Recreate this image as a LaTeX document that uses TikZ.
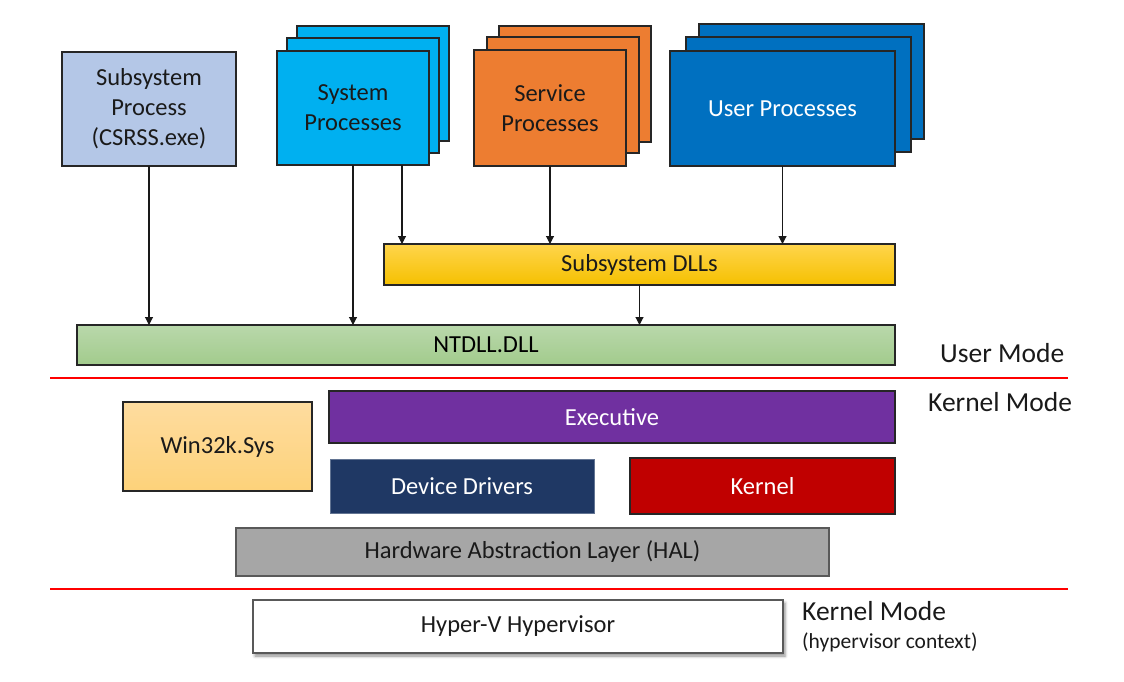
\documentclass[tikz,border=0pt]{standalone}
\usepackage{fontspec}
\setmainfont{Carlito}
\usetikzlibrary{arrows.meta,shadows.blur}
\definecolor{boxline}{HTML}{262626}
\definecolor{txtdark}{HTML}{1A1A1A}
\definecolor{csrsscol}{HTML}{B4C7E7}
\definecolor{syscol}{HTML}{00B0F0}
\definecolor{svccol}{HTML}{ED7D31}
\definecolor{usrcol}{HTML}{0070C0}
\definecolor{dlltop}{HTML}{FFD54C}
\definecolor{dllbot}{HTML}{F5C000}
\definecolor{nttop}{HTML}{B9D8AB}
\definecolor{ntbot}{HTML}{A2CB8C}
\definecolor{wintop}{HTML}{FEDC9F}
\definecolor{winbot}{HTML}{FDD27A}
\definecolor{execcol}{HTML}{7030A0}
\definecolor{drvcol}{HTML}{1F3864}
\definecolor{kerncol}{HTML}{C00000}
\definecolor{halcol}{HTML}{A6A6A6}
\definecolor{halline}{HTML}{595959}
\definecolor{redline}{HTML}{FF0000}
\begin{document}
\begin{tikzpicture}[x=1pt,y=-1pt,
  box/.style={draw=boxline, line width=1.3pt, inner sep=0pt, outer sep=0pt,
    anchor=north west, align=center, font=\fontsize{24.5}{30}\selectfont, text=txtdark},
  arr/.style={-{Triangle[length=8pt,width=8pt]}, line width=1.1pt, draw=black!90},
  sepline/.style={draw=redline, line width=2pt},
  modelabel/.style={anchor=west, inner sep=0pt, font=\fontsize{27.5}{30}\selectfont, text=txtdark},
  sublabel/.style={anchor=west, inner sep=0pt, font=\fontsize{21.5}{24}\selectfont, text=txtdark}]
\useasboundingbox (0,0) rectangle (1124,682);

% user-mode processes
\node[box, fill=csrsscol, minimum width=174pt, minimum height=114pt] (csrss) at (62,52)
  {Subsystem\\Process\\(CSRSS.exe)};

\node[box, fill=syscol, minimum width=152pt, minimum height=115pt] (sys3) at (297,26) {};
\node[box, fill=syscol, minimum width=152pt, minimum height=115pt] (sys2) at (287,38) {};
\node[box, fill=syscol, minimum width=152pt, minimum height=114pt] (sys) at (277,51)
  {System\\Processes};

\node[box, fill=svccol, minimum width=152pt, minimum height=116pt] (svc3) at (499,26) {};
\node[box, fill=svccol, minimum width=152pt, minimum height=116pt] (svc2) at (487,37) {};
\node[box, fill=svccol, minimum width=152pt, minimum height=116pt] (svc) at (474,50)
  {Service\\Processes};

\node[box, fill=usrcol, minimum width=225pt, minimum height=115pt] (usr3) at (699,24) {};
\node[box, fill=usrcol, minimum width=225pt, minimum height=115pt] (usr2) at (686,37) {};
\node[box, fill=usrcol, minimum width=225pt, minimum height=115pt, text=white] (usr) at (670,51)
  {User Processes};

% DLL layers
\node[box, top color=dlltop, bottom color=dllbot, minimum width=511pt, minimum height=41pt] (dlls) at (384,244)
  {Subsystem DLLs};
\node[box, top color=nttop, bottom color=ntbot, minimum width=818pt, minimum height=40pt, text=black] (ntdll) at (77,325)
  {NTDLL.DLL};

% kernel mode
\node[box, top color=wintop, bottom color=winbot, minimum width=189pt, minimum height=89pt] (win32k) at (123,402)
  {Win32k.Sys};
\node[box, fill=execcol, minimum width=566pt, minimum height=52pt, text=white] (exec) at (329,391)
  {Executive};
\node[box, fill=drvcol, draw=drvcol!70!white, line width=0.6pt, minimum width=264pt, minimum height=54pt, text=white] (drv) at (330,459)
  {Device Drivers};
\node[box, fill=kerncol, minimum width=265pt, minimum height=56pt, text=white] (kern) at (630,458)
  {Kernel};
\node[box, fill=halcol, draw=halline, minimum width=593pt, minimum height=48pt] (hal) at (236,528)
  {Hardware Abstraction Layer (HAL)};
\node[box, fill=white, draw=halline, minimum width=530pt, minimum height=53pt,
  blur shadow={shadow xshift=2pt, shadow yshift=-3pt, shadow blur radius=3pt, shadow opacity=45}] (hyper) at (253,600)
  {Hyper-V Hypervisor};

% connectors
\coordinate (sysb) at ([xshift=49pt]sys.south);
\draw[arr] (csrss.south) -- (csrss.south |- ntdll.north);
\draw[arr] (sys.south) -- (sys.south |- ntdll.north);
\draw[arr] (sysb) -- (sysb |- dlls.north);
\draw[arr] (svc.south) -- (svc.south |- dlls.north);
\draw[arr] (usr.south) -- (usr.south |- dlls.north);
\draw[arr] (dlls.south) -- (dlls.south |- ntdll.north);

% mode separators
\coordinate (sepa1) at (50,378);
\coordinate (sepa2) at (1068,378);
\coordinate (sepb1) at (50,589);
\coordinate (sepb2) at (1068,589);
\draw[sepline] (sepa1) -- (sepa2);
\draw[sepline] (sepb1) -- (sepb2);

% mode labels
\node[modelabel] (um) at (940,353) {User Mode};
\node[modelabel] (km) at (928,402) {Kernel Mode};
\node[modelabel] (km2) at (802,611) {Kernel Mode};
\node[sublabel] (hvc) at (802,642) {(hypervisor context)};
\end{tikzpicture}
\end{document}
